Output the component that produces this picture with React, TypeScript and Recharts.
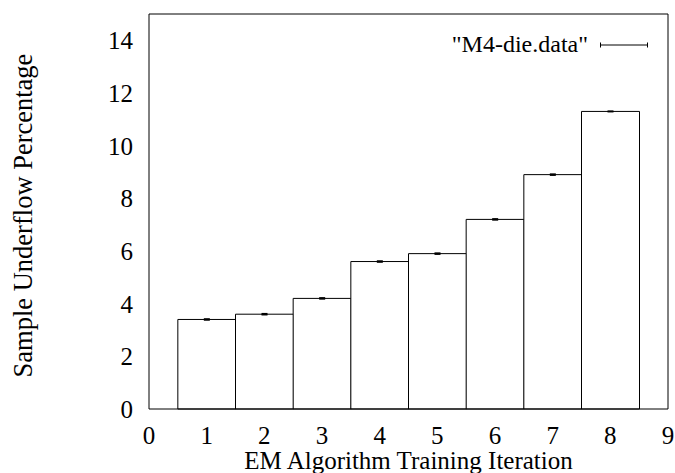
import { ComposedChart, Bar, ErrorBar, XAxis, YAxis, Legend } from 'recharts';

// Underflow percentage per training iteration, with the (tiny) error per bar
const iterations = [1, 2, 3, 4, 5, 6, 7, 8];
const underflowPct = [3.4, 3.6, 4.2, 5.6, 5.9, 7.2, 8.9, 11.3];
const underflowErr = [0.02, 0.02, 0.02, 0.02, 0.02, 0.02, 0.02, 0.01];

const xTicks = [0, 1, 2, 3, 4, 5, 6, 7, 8, 9];
const yTicks = [0, 2, 4, 6, 8, 10, 12, 14];
const seriesName = '"M4-die.data"';

const data = iterations.map((x, i) => ({ x, value: underflowPct[i], err: underflowErr[i] }));

const FONT = 'Liberation Serif, Times New Roman, serif';
const tickStyle = { fill: '#000', fontSize: 25, fontFamily: FONT };

function GnuplotKey() {
  return (
    <div style={{ position: 'relative', width: 215, height: 24, fontFamily: FONT, fontSize: 24, lineHeight: '24px' }}>
      <span style={{ position: 'absolute', left: 0, top: 0, width: 148, textAlign: 'right', color: '#000', whiteSpace: 'nowrap' }}>
        {seriesName}
      </span>
      <svg style={{ position: 'absolute', left: 160, top: 9 }} width={48} height={8}>
        <line x1={0.5} y1={4} x2={47.5} y2={4} stroke="#000" strokeWidth={1} />
        <line x1={0.5} y1={1.5} x2={0.5} y2={6.5} stroke="#000" strokeWidth={1} />
        <line x1={47.5} y1={1.5} x2={47.5} y2={6.5} stroke="#000" strokeWidth={1} />
      </svg>
    </div>
  );
}

export default function App() {
  return (
    <div style={{ position: 'absolute', left: 0, top: 0, background: '#fff', fontFamily: FONT }}>
      <ComposedChart
        width={675}
        height={473}
        data={data}
        margin={{ top: 14, right: 7, bottom: 0, left: 0 }}
        barCategoryGap={0}
        barGap={0}
        style={{ fontFamily: FONT }}
      >
        {/* outer axes carry the labels, inner mirrored ones draw the inward ticks */}
        <XAxis
          dataKey="x"
          type="number"
          domain={[0, 9]}
          ticks={xTicks}
          height={64}
          tickLine={false}
          tickSize={6}
          tickMargin={11}
          axisLine={{ stroke: '#000' }}
          tick={tickStyle}
          label={{ value: 'EM Algorithm Training Iteration', position: 'insideBottom', offset: 4, fill: '#000', fontSize: 25, fontFamily: FONT }}
        />
        <XAxis xAxisId="bm" dataKey="x" type="number" domain={[0, 9]} ticks={xTicks} mirror tick={false} tickSize={6} tickLine={{ stroke: '#000' }} axisLine={false} />
        <XAxis xAxisId="top" orientation="top" dataKey="x" type="number" domain={[0, 9]} ticks={xTicks} mirror tick={false} tickSize={6} tickLine={{ stroke: '#000' }} axisLine={{ stroke: '#000' }} />
        <YAxis
          type="number"
          domain={[0, 15]}
          ticks={yTicks}
          width={149}
          tickLine={false}
          tickSize={6}
          tickMargin={10}
          axisLine={{ stroke: '#000' }}
          tick={tickStyle}
          label={{ value: 'Sample Underflow Percentage', angle: -90, position: 'center', dx: -52, dy: 4, fill: '#000', fontSize: 26.5, fontFamily: FONT }}
        />
        <YAxis yAxisId="lm" type="number" dataKey="value" domain={[0, 15]} allowDataOverflow ticks={yTicks} mirror tick={false} tickSize={6} tickLine={{ stroke: '#000' }} axisLine={false} />
        <YAxis yAxisId="rm" orientation="right" type="number" dataKey="value" domain={[0, 15]} allowDataOverflow ticks={yTicks} mirror tick={false} tickSize={6} tickLine={{ stroke: '#000' }} axisLine={{ stroke: '#000' }} />
        <Legend
          layout="horizontal"
          verticalAlign="middle"
          align="center"
          content={() => <GnuplotKey />}
          wrapperStyle={{ position: 'absolute', left: 440, top: 32, width: 215, height: 24 }}
        />
        <Bar dataKey="value" name={seriesName} fill="#fff" stroke="#000" strokeWidth={1} isAnimationActive={false}>
          <ErrorBar dataKey="err" direction="y" width={3} stroke="#000" strokeWidth={1.5} isAnimationActive={false} />
        </Bar>
      </ComposedChart>
    </div>
  );
}
